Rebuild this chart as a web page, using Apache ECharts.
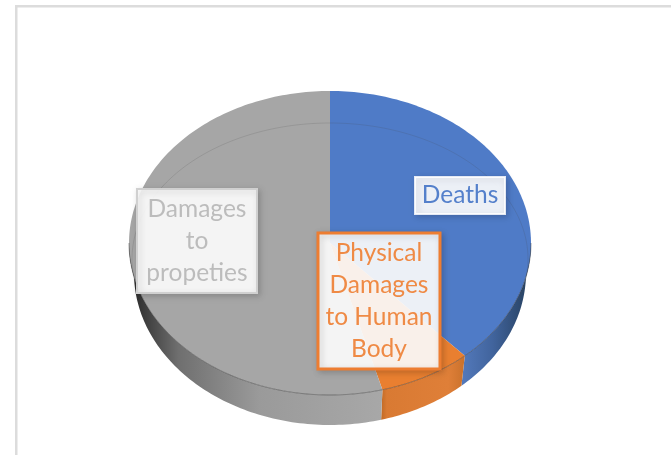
<!DOCTYPE html>
<html>
<head>
<meta charset="utf-8">
<style>html,body{margin:0;padding:0;background:#fff}#main{width:671px;height:455px}</style>
<script src="https://cdn.jsdelivr.net/npm/echarts@6/dist/echarts.min.js"></script>
</head>
<body>
<div id="main"></div>
<script>
var categories = ['Deaths', 'Physical Damages to Human Body', 'Damages to propeties'];
var values = [38.3, 7.5, 54.2];
var labelLines = ['Deaths', 'Physical\nDamages\nto Human\nBody', 'Damages\nto\npropeties'];

var FACE = ['#4f7bc7', '#e97f30', '#a6a6a6'];
var TEXT = ['#5480cb', '#ef8a45', '#bcbcbc'];
var BORDER = ['rgba(255,255,255,0.85)', '#ed7d31', '#d0d0d0'];
var BOXES = [
  {x: 415, y: 177, w: 90, h: 37},
  {x: 318, y: 233, w: 122, h: 136},
  {x: 137, y: 189, w: 120, h: 104}
];
var WALL = [
  [[0, '#5379bb'], [0.45, '#41649d'], [1, '#26405f']],
  [[0, '#b4621f'], [0.1, '#d97a33'], [0.8, '#df7f38'], [1, '#c8702a']],
  [[0, '#2b2b2b'], [0.18, '#6f6f6f'], [0.5, '#9a9a9a'], [1, '#a8a8a8']]
];
var WALL_X = [[462, 530], [378, 466], [133, 385]];

var cx = 330, cy = 243, rx = 201, ry = 152;
var wallRx = 196, wallDrop = 30;
var lineCy = 259, lineRx = 198, lineRy = 136;
var total = values.reduce(function (a, b) { return a + b; }, 0);

function cumulative(i) {
  var s = 0;
  for (var k = 0; k < i; k++) s += values[k];
  return s / total * Math.PI * 2;
}
function facePoint(t) {
  return [cx + rx * Math.sin(t), cy - ry * Math.cos(t)];
}
function wallPoint(t) {
  return [cx + wallRx * Math.sin(t), cy + wallDrop - ry * Math.cos(t)];
}
function linePoint(t) {
  return [cx + lineRx * Math.sin(t), lineCy - lineRy * Math.cos(t)];
}
function arc(a, b, fn) {
  var out = [], n = Math.max(2, Math.ceil(Math.abs(b - a) / 0.02));
  for (var i = 0; i <= n; i++) out.push(fn(a + (b - a) * i / n));
  return out;
}

function renderItem(params, api) {
  var i = params.dataIndex;
  var value = api.value(1);
  var a0 = cumulative(i), a1 = a0 + value / total * Math.PI * 2;
  var children = [];

  // side wall, only the part that faces the viewer
  var w0 = Math.max(a0, Math.PI / 2), w1 = Math.min(a1, Math.PI * 1.5);
  if (w1 > w0) {
    var stops = WALL[i].map(function (s) { return {offset: s[0], color: s[1]}; });
    children.push({
      type: 'polygon', z2: 1,
      shape: {points: arc(w0, w1, facePoint).concat(arc(w1, w0, wallPoint))},
      style: {fill: new echarts.graphic.LinearGradient(WALL_X[i][0], 0, WALL_X[i][1], 0, stops, true)}
    });
  }
  // top face
  children.push({
    type: 'polygon', z2: 2,
    shape: {points: [[cx, cy]].concat(arc(a0, a1, facePoint))},
    style: {fill: FACE[i]}
  });
  // faint bevel line across the back of the face
  var l0 = a0 < Math.PI * 0.6 ? [a0, Math.min(a1, Math.PI * 0.6)] : null;
  var l1 = a1 > Math.PI * 1.4 ? [Math.max(a0, Math.PI * 1.4), a1] : null;
  [l0, l1].forEach(function (r) {
    if (r) children.push({
      type: 'polyline', z2: 3, shape: {points: arc(r[0], r[1], linePoint)},
      style: {fill: 'none', stroke: 'rgba(70,70,70,0.16)', lineWidth: 1}
    });
  });
  // darker rim along the front
  if (w1 > w0) children.push({
    type: 'polyline', z2: 3, shape: {points: arc(w0, w1, facePoint)},
    style: {fill: 'none', stroke: 'rgba(50,50,50,0.45)', lineWidth: 1}
  });
  // data label
  var b = BOXES[i];
  children.push({
    type: 'rect', z2: 10,
    shape: {x: b.x, y: b.y, width: b.w, height: b.h},
    style: {fill: 'rgba(255,255,255,0.9)', stroke: BORDER[i], lineWidth: i === 1 ? 3 : 2,
      shadowBlur: 6, shadowColor: 'rgba(0,0,0,0.18)', shadowOffsetX: 2, shadowOffsetY: 2}
  });
  children.push({
    type: 'text', z2: 11,
    x: b.x + b.w / 2, y: b.y + b.h / 2,
    style: {text: labelLines[i], fill: TEXT[i], font: '24.5px Lato', lineHeight: 32,
      align: 'center', verticalAlign: 'middle'}
  });
  return {type: 'group', children: children};
}

var chart = echarts.init(document.getElementById('main'), null, {renderer: 'canvas'});
chart.setOption({
  backgroundColor: '#ffffff',
  animation: false,
  graphic: [
    {type: 'rect', z: 0, shape: {x: 15, y: 5, width: 656, height: 2.5}, style: {fill: '#dcdcdc'}},
    {type: 'rect', z: 0, shape: {x: 15, y: 5, width: 2.5, height: 450}, style: {fill: '#dcdcdc'}}
  ],
  series: [{
    type: 'custom',
    coordinateSystem: 'none',
    renderItem: renderItem,
    silent: true,
    data: categories.map(function (c, i) { return [c, values[i]]; })
  }]
});
</script>
</body>
</html>
